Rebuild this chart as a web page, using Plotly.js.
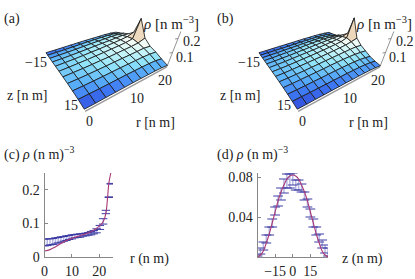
<!DOCTYPE html>
<html><head><meta charset="utf-8">
<script src="https://cdn.plot.ly/plotly-3.0.1.min.js"></script>
<style>html,body{margin:0;padding:0;background:#fff}#c{width:415px;height:279px}</style>
</head><body><div id="c"></div>
<script>
// Surface (a): rows are z, columns are r
const rA=[0,2.4,4.8,7.2,9.6,12,14.4,16.8,19.2,21.6,24];
const zA=[-15,-12,-9,-6,-3,0,3,6,9,12,15];
const rhoA=[
[.012,.012,.013,.014,.015,.016,.016,.016,.016,.014,.008],
[.024,.025,.026,.028,.030,.032,.033,.034,.034,.032,.024],
[.033,.034,.036,.038,.041,.044,.046,.048,.050,.050,.045],
[.039,.040,.042,.045,.048,.052,.055,.058,.062,.066,.062],
[.043,.045,.047,.050,.054,.057,.062,.067,.072,.080,.100],
[.044,.046,.049,.052,.056,.060,.065,.070,.076,.088,.235],
[.043,.045,.047,.050,.054,.057,.062,.067,.072,.080,.100],
[.039,.040,.042,.045,.048,.052,.055,.058,.062,.066,.062],
[.033,.034,.036,.038,.041,.044,.046,.048,.050,.050,.045],
[.024,.025,.026,.028,.030,.032,.033,.034,.034,.032,.024],
[.012,.012,.013,.014,.015,.016,.016,.016,.016,.014,.008]];
// Surface (b)
const rB=[0,2,4,6,8,10,12,14,16,18,20,22,24];
const zB=[-15,-12.5,-10,-7.5,-5,-2.5,0,2.5,5,7.5,10,12.5,15];
const rhoB=[
[.012,.012,.013,.013,.014,.014,.015,.015,.015,.015,.014,.011,.006],
[.019,.020,.020,.021,.022,.023,.024,.025,.025,.025,.024,.019,.012],
[.026,.027,.028,.030,.031,.033,.035,.036,.037,.037,.035,.030,.022],
[.032,.033,.035,.037,.039,.041,.044,.046,.048,.049,.048,.045,.040],
[.036,.037,.039,.041,.044,.047,.050,.053,.056,.059,.062,.064,.060],
[.039,.040,.042,.045,.048,.051,.054,.058,.062,.067,.072,.082,.095],
[.040,.041,.043,.046,.049,.052,.056,.060,.065,.070,.077,.092,.240],
[.039,.040,.042,.045,.048,.051,.054,.058,.062,.067,.072,.082,.095],
[.036,.037,.039,.041,.044,.047,.050,.053,.056,.059,.062,.064,.060],
[.032,.033,.035,.037,.039,.041,.044,.046,.048,.049,.048,.045,.040],
[.026,.027,.028,.030,.031,.033,.035,.036,.037,.037,.035,.030,.022],
[.019,.020,.020,.021,.022,.023,.024,.025,.025,.025,.024,.019,.012],
[.012,.012,.013,.013,.014,.014,.015,.015,.015,.015,.014,.011,.006]];
// Panel (c)
const rC=[0,1,2,3,4,5,6,7,8,9,10,11,12,13,14,15,16,17,18,19,20.2,21.4,22.4,23.5,24.2];
const meanC=[.043,.044,.045,.046,.048,.050,.052,.054,.056,.058,.060,.062,.063,.064,.066,.067,.069,.071,.074,.078,.088,.106,.134,.178,.218];
const errC=[.010,.010,.009,.009,.009,.008,.008,.007,.007,.006,.006,.005,.005,.005,.004,.004,.004,.005,.005,.006,.006,.008,.005,.001,.001];
const rFit=[0,2,4,6,8,10,12,14,16,18,20,21.4,22.4,23,23.5,24.2];
const fitC=[.018,.022,.030,.040,.049,.056,.061,.066,.072,.080,.092,.105,.130,.175,.220,.250];
// Panel (d)
const zD=[-30,-27.5,-25,-22.5,-20,-17.5,-15,-12.5,-10,-7.5,-5,-2.5,0,2.5,5,7.5,10,12.5,15,17.5,20,22.5,25,27.5,30];
const meanD=[.001,.006,.011,.018,.026,.034,.046,.056,.063,.071,.076,.076,.078,.072,.072,.069,.061,.054,.044,.034,.026,.019,.013,.008,.005];
const errD=[.001,.003,.004,.004,.004,.004,.004,.005,.006,.007,.007,.007,.006,.005,.005,.004,.004,.004,.004,.004,.004,.004,.004,.004,.004];
const fitD=[0,.002,.006,.014,.023,.034,.045,.056,.065,.072,.078,.081,.082,.081,.078,.072,.065,.056,.045,.034,.023,.014,.006,.002,0];
const rhoTicks=[.1,.2];

// Oblique view of the surface: a perspective map of the base plane plus a height direction.
function makeView(dx){
  const q=[[47+dx,54],[85+dx,111],[167+dx,66.5],[116+dx,33]]; // r=0/z=-15, r=0/z=15, r=24/z=15, r=24/z=-15
  const [p0,p1,p2,p3]=[q[0],q[3],q[2],q[1]]; // u along r, v along z
  const sx=p0[0]-p1[0]+p2[0]-p3[0], sy=p0[1]-p1[1]+p2[1]-p3[1];
  const d1x=p1[0]-p2[0], d2x=p3[0]-p2[0], d1y=p1[1]-p2[1], d2y=p3[1]-p2[1];
  const den=d1x*d2y-d2x*d1y;
  const g=(sx*d2y-d2x*sy)/den, h=(d1x*sy-sx*d1y)/den;
  const a=p1[0]-p0[0]+g*p1[0], b=p3[0]-p0[0]+h*p3[0], c=p0[0];
  const d=p1[1]-p0[1]+g*p1[1], e=p3[1]-p0[1]+h*p3[1], f=p0[1];
  return (r,z,rho)=>{
    const u=r/24, v=(z+15)/30, w=g*u+h*v+1;
    const X=(a*u+b*v+c)/w, Y=(d*u+e*v+f)/w;
    const s=(11*(1-u)*(1-v)+15*(1-u)*v+14*u*v+10.5*u*(1-v))*10;
    return [X+rho*s*(X-125-dx)*.0094, Y-rho*s];
  };
}
const stops=[[.008,[50,80,220]],[.02,[62,122,245]],[.034,[92,180,250]],[.05,[145,228,250]],[.07,[205,246,248]],[.09,[242,250,245]],[.125,[242,228,205]],[.2,[221,168,120]],[.29,[185,128,80]]];
function shade(t){
  for(let i=1;i<stops.length;i++){ if(t<=stops[i][0]){
    const [a,ca]=stops[i-1],[b,cb]=stops[i],k=Math.max(0,(t-a)/(b-a));
    return 'rgb('+ca.map((v,j)=>Math.round(v+(cb[j]-v)*k)).join(',')+')';}}
  return 'rgb(185,128,80)';
}
function surfaceTraces(rs,zs,m,dx){
  const P=makeView(dx),out=[];
  for(let i=0;i<zs.length-1;i++) for(let j=rs.length-2;j>=0;j--){
    const c=[[i,j],[i,j+1],[i+1,j+1],[i+1,j]];
    const pts=c.map(([a,b])=>P(rs[b],zs[a],m[a][b]));
    pts.push(pts[0]);
    const mean=c.reduce((n,[a,b])=>n+m[a][b],0)/4;
    const t=mean+.014*(rs[j]/24)-.006*((zs[i]+15)/30)*(1-rs[j]/24);
    out.push({x:pts.map(p=>p[0]),y:pts.map(p=>p[1]),xaxis:'x3',yaxis:'y3',mode:'lines',fill:'toself',fillcolor:shade(t),line:{color:'#1c1c1c',width:.85},hoverinfo:'skip'});
  }
  return out;
}
function frameTraces(rs,zs,dx){
  const P=makeView(dx),g='#9a9a9a';
  const edge=rs.map(r=>P(r,15,-.002));
  const top=P(24,15,.25),bot=P(24,15,0);
  const tk=rhoTicks.map(v=>{const p=P(24,15,v);return {x:[p[0]-3,p[0]],y:[p[1]+.5,p[1]],xaxis:'x3',yaxis:'y3',mode:'lines',line:{color:'#777',width:.8},hoverinfo:'skip'};});
  return [{x:edge.map(p=>p[0]),y:edge.map(p=>p[1]),xaxis:'x3',yaxis:'y3',mode:'lines',line:{color:g,width:1.4},hoverinfo:'skip'},
   {x:[bot[0],top[0]],y:[bot[1],top[1]],xaxis:'x3',yaxis:'y3',mode:'lines',line:{color:'#777',width:.8},hoverinfo:'skip'},...tk];
}
const LIGHT='#b4b4e2',DARK='#3c3ca4',FIT='#a83a78';
function panel(x,y,e,xa,ya,xf,yf,w){
 return [
 {x:x,y:y,xaxis:xa,yaxis:ya,mode:'markers',marker:{opacity:0,size:1},error_y:{type:'data',array:e,color:LIGHT,thickness:1.5,width:0},hoverinfo:'skip'},
 {x:x,y:y.map((v,i)=>v+e[i]),xaxis:xa,yaxis:ya,mode:'markers',marker:{symbol:'line-ew',size:w,line:{color:DARK,width:1}},hoverinfo:'skip'},
 {x:x,y:y.map((v,i)=>v-e[i]),xaxis:xa,yaxis:ya,mode:'markers',marker:{symbol:'line-ew',size:w,line:{color:DARK,width:1}},hoverinfo:'skip'},
 {x:xf,y:yf,xaxis:xa,yaxis:ya,mode:'lines',line:{color:FIT,width:1.1,shape:'spline'},hoverinfo:'skip'}];
}
const data=[...frameTraces(rA,zA,0),...surfaceTraces(rA,zA,rhoA,0),
 ...frameTraces(rB,zB,213),...surfaceTraces(rB,zB,rhoB,213),
 ...panel(rC,meanC,errC,'x','y',rFit,fitC,6),...panel(zD,meanD,errD,'x2','y2',zD,fitD,7)];
const F={family:'Liberation Serif, Times New Roman, serif',size:14,color:'#222'};
const W=415,H=279;
const ax2=(d,r,t,tt)=>({domain:d,range:r,tickmode:'array',tickvals:t,ticktext:tt,ticks:'inside',ticklen:3,tickcolor:'#888',tickwidth:1,showline:true,linecolor:'#888',linewidth:1,showgrid:false,zeroline:false,tickfont:F,automargin:false,ticklabelstandoff:1});
function T(x,y,text,size,anchor){return {xref:'paper',yref:'paper',x:x/W,y:1-y/H,text:text,showarrow:false,xanchor:anchor||'left',yanchor:'middle',borderpad:0,font:Object.assign({},F,size?{size:size}:{})};}
const sup='<sup>−3</sup>';
const rho='<i>ρ</i>';
function topLabels(dx,tag){return [
 T(3+(dx?213:0),19,tag),T(48+dx,62,'−15',14,'right'),T(6+dx,95,'z [n m]'),T(63+dx,105,'15'),T(89+dx,121,'0',14,'center'),T(129+dx,98,'10'),T(157+dx,80,'20'),
 T(135+dx,122,'r [n m]'),T(142+dx,23,rho+' [n m'+sup+']',15),T(182+dx,42,'0.2'),T(175+dx,58,'0.1')];}
const ann=[...topLabels(0,'(a)'),...topLabels(213,'(b)'),
 T(3,153,'(c) '+rho+' (n m)'+sup),T(129,259,'r (n m)'),
 T(216,153,'(d) '+rho+' (n m)'+sup),T(341,259,'z (n m)')];
const layout={width:W,height:H,margin:{l:0,r:0,t:0,b:0},paper_bgcolor:'#fff',plot_bgcolor:'rgba(0,0,0,0)',showlegend:false,
 xaxis:ax2([44.5/W,113/W],[0,25],[0,10,20],['0','10','20']),
 yaxis:ax2([1-257/H,1-173/H],[0,.25],[0,.1,.2],['0','0.1','0.2']),
 xaxis2:ax2([257.5/W,328/W],[-30,30],[-15,0,15],['−15','0','15']),
 yaxis2:ax2([1-257/H,1-173/H],[0,.084],[.04,.08],['0.04','0.08']),
 xaxis3:{domain:[0,1],range:[0,W],visible:false,fixedrange:true},
 yaxis3:{domain:[0,1],range:[H,0],visible:false,fixedrange:true,anchor:'x3'},
 annotations:ann};
layout.xaxis.anchor='y';layout.yaxis.anchor='x';layout.xaxis2.anchor='y2';layout.yaxis2.anchor='x2';layout.xaxis3.anchor='y3';
Plotly.newPlot('c',data,layout,{displayModeBar:false,staticPlot:true});
</script></body></html>
